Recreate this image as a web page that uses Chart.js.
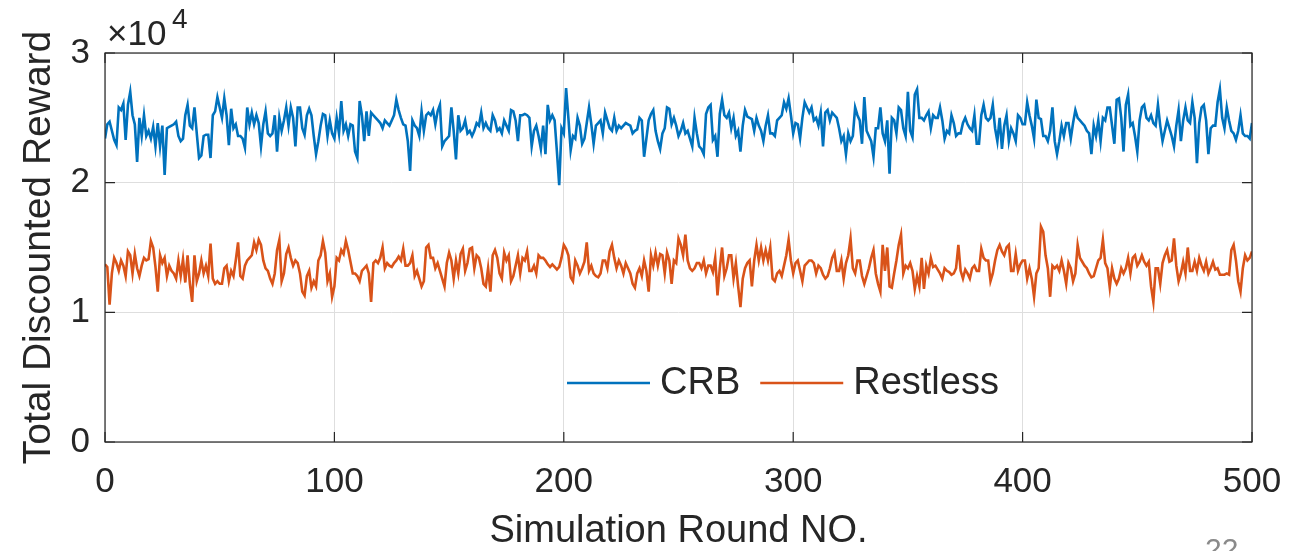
<!DOCTYPE html>
<html>
<head>
<meta charset="utf-8">
<script src="https://cdn.jsdelivr.net/npm/chart.js@4"></script>
<style>
  html, body { margin: 0; padding: 0; background: #fff; }
  canvas { display: block; }
</style>
</head>
<body>
<canvas id="rewardChart" width="1304" height="551"></canvas>
<script>
// values, in units of 10^4 (round 0..500)
const crb = [
  2.34,2.45,2.47,2.40,2.33,2.29,2.58,2.56,2.61,2.33,2.60,2.70,2.52,2.45,2.16,2.50,2.36,2.52,2.36,2.40,2.34,2.43,2.28,2.46,2.28,2.44,2.06,2.42,2.43,2.44,2.45,2.47,2.36,2.32,2.34,2.52,2.60,2.44,2.42,2.58,2.38,2.19,2.21,2.36,2.37,2.37,2.19,2.52,2.55,2.66,2.58,
  2.50,2.65,2.52,2.29,2.57,2.42,2.45,2.36,2.36,2.34,2.27,2.58,2.45,2.54,2.45,2.52,2.46,2.28,2.45,2.55,2.38,2.36,2.38,2.52,2.24,2.50,2.40,2.48,2.58,2.44,2.58,2.50,2.28,2.58,2.58,2.42,2.37,2.52,2.57,2.52,2.36,2.22,2.32,2.44,2.53,2.52,2.36,2.48,2.38,2.34,
  2.50,2.38,2.63,2.40,2.45,2.36,2.45,2.44,2.24,2.19,2.63,2.52,2.32,2.55,2.36,2.54,2.52,2.50,2.48,2.46,2.42,2.48,2.46,2.44,2.48,2.52,2.64,2.56,2.50,2.45,2.44,2.32,2.09,2.48,2.44,2.42,2.36,2.55,2.40,2.52,2.54,2.52,2.56,2.45,2.55,2.60,2.28,2.32,2.34,2.36,
  2.58,2.40,2.18,2.52,2.40,2.42,2.48,2.38,2.40,2.36,2.40,2.46,2.44,2.54,2.42,2.46,2.42,2.40,2.52,2.48,2.40,2.42,2.38,2.48,2.44,2.40,2.56,2.55,2.48,2.32,2.52,2.52,2.53,2.52,2.50,2.28,2.40,2.44,2.36,2.26,2.44,2.22,2.60,2.48,2.52,2.48,2.24,1.98,2.42,2.38,
  2.73,2.50,2.25,2.36,2.34,2.50,2.44,2.30,2.34,2.46,2.58,2.45,2.30,2.44,2.46,2.48,2.38,2.54,2.48,2.42,2.40,2.50,2.40,2.44,2.42,2.44,2.46,2.45,2.44,2.38,2.40,2.41,2.50,2.48,2.20,2.34,2.48,2.53,2.56,2.40,2.32,2.26,2.38,2.42,2.58,2.57,2.45,2.50,2.44,2.36,
  2.40,2.46,2.38,2.40,2.34,2.28,2.50,2.38,2.28,2.26,2.22,2.53,2.58,2.60,2.33,2.36,2.20,2.53,2.64,2.52,2.50,2.54,2.42,2.50,2.36,2.40,2.24,2.44,2.56,2.51,2.50,2.49,2.40,2.50,2.44,2.40,2.32,2.44,2.52,2.38,2.38,2.36,2.48,2.50,2.52,2.62,2.57,2.65,2.52,2.38,
  2.46,2.45,2.34,2.50,2.62,2.58,2.54,2.58,2.48,2.50,2.44,2.54,2.28,2.54,2.56,2.48,2.54,2.52,2.50,2.42,2.32,2.36,2.22,2.38,2.32,2.36,2.58,2.52,2.48,2.30,2.66,2.40,2.36,2.32,2.20,2.42,2.42,2.58,2.38,2.32,2.48,2.07,2.50,2.48,2.38,2.58,2.56,2.42,2.36,2.70,
  2.40,2.35,2.68,2.72,2.50,2.50,2.48,2.52,2.55,2.42,2.52,2.50,2.50,2.58,2.48,2.34,2.40,2.38,2.52,2.46,2.36,2.38,2.38,2.46,2.50,2.45,2.42,2.40,2.52,2.30,2.30,2.52,2.60,2.50,2.48,2.50,2.60,2.42,2.32,2.50,2.26,2.44,2.52,2.32,2.42,2.38,2.32,2.52,2.50,2.45,
  2.45,2.62,2.52,2.44,2.34,2.64,2.50,2.49,2.36,2.36,2.32,2.40,2.58,2.32,2.22,2.32,2.44,2.36,2.46,2.46,2.34,2.46,2.56,2.50,2.48,2.46,2.44,2.40,2.38,2.22,2.44,2.36,2.48,2.32,2.50,2.48,2.58,2.58,2.44,2.30,2.64,2.65,2.50,2.24,2.60,2.68,2.44,2.46,2.36,2.24,
  2.48,2.58,2.60,2.50,2.48,2.52,2.46,2.44,2.60,2.44,2.32,2.40,2.48,2.42,2.36,2.28,2.44,2.56,2.32,2.48,2.58,2.48,2.46,2.62,2.50,2.15,2.46,2.58,2.60,2.48,2.22,2.42,2.44,2.44,2.62,2.72,2.50,2.42,2.58,2.48,2.40,2.38,2.33,2.40,2.52,2.38,2.36,2.36,2.34,2.46
];

const restless = [
  1.37,1.35,1.06,1.30,1.42,1.38,1.32,1.40,1.36,1.28,1.47,1.44,1.30,1.45,1.34,1.28,1.36,1.42,1.40,1.41,1.55,1.50,1.35,1.16,1.44,1.38,1.42,1.28,1.36,1.32,1.30,1.26,1.40,1.28,1.41,1.23,1.44,1.22,1.08,1.44,1.24,1.30,1.40,1.30,1.36,1.28,1.53,1.26,1.22,1.24,1.22,
  1.22,1.34,1.36,1.24,1.32,1.28,1.40,1.54,1.28,1.26,1.36,1.40,1.42,1.44,1.54,1.48,1.56,1.52,1.40,1.34,1.32,1.26,1.22,1.30,1.48,1.56,1.24,1.30,1.45,1.50,1.42,1.36,1.40,1.38,1.30,1.16,1.13,1.28,1.32,1.19,1.24,1.20,1.40,1.44,1.55,1.46,1.24,1.30,1.12,1.20,
  1.42,1.40,1.48,1.45,1.55,1.48,1.39,1.30,1.30,1.28,1.24,1.32,1.34,1.36,1.30,1.08,1.38,1.40,1.38,1.42,1.50,1.34,1.38,1.36,1.35,1.38,1.40,1.43,1.40,1.49,1.36,1.36,1.38,1.44,1.28,1.32,1.26,1.20,1.24,1.50,1.52,1.42,1.42,1.34,1.38,1.32,1.26,1.20,1.38,1.46,
  1.40,1.26,1.40,1.30,1.45,1.49,1.32,1.38,1.49,1.50,1.34,1.44,1.42,1.34,1.22,1.20,1.34,1.16,1.44,1.48,1.42,1.30,1.26,1.46,1.40,1.44,1.24,1.28,1.36,1.44,1.30,1.42,1.40,1.47,1.32,1.32,1.36,1.30,1.44,1.42,1.42,1.40,1.37,1.35,1.37,1.35,1.33,1.35,1.42,1.52,
  1.49,1.44,1.27,1.24,1.40,1.36,1.30,1.34,1.39,1.54,1.32,1.36,1.30,1.28,1.27,1.30,1.40,1.40,1.34,1.47,1.52,1.42,1.34,1.40,1.36,1.30,1.38,1.34,1.30,1.22,1.19,1.30,1.34,1.28,1.40,1.32,1.16,1.44,1.36,1.46,1.36,1.45,1.44,1.30,1.46,1.40,1.22,1.40,1.38,1.57,
  1.52,1.44,1.60,1.40,1.34,1.32,1.34,1.38,1.38,1.34,1.40,1.30,1.36,1.36,1.31,1.42,1.13,1.34,1.50,1.28,1.34,1.44,1.44,1.26,1.38,1.20,1.04,1.26,1.34,1.38,1.40,1.20,1.40,1.52,1.40,1.50,1.40,1.48,1.40,1.50,1.26,1.24,1.30,1.32,1.28,1.36,1.44,1.56,1.40,1.30,
  1.38,1.40,1.32,1.24,1.36,1.38,1.40,1.40,1.38,1.30,1.36,1.34,1.29,1.26,1.28,1.34,1.42,1.46,1.32,1.32,1.40,1.26,1.38,1.44,1.57,1.34,1.30,1.40,1.40,1.28,1.22,1.28,1.34,1.42,1.48,1.30,1.22,1.16,1.52,1.32,1.50,1.20,1.19,1.30,1.40,1.52,1.60,1.30,1.36,1.34,
  1.38,1.32,1.18,1.28,1.20,1.42,1.18,1.36,1.30,1.42,1.35,1.36,1.33,1.30,1.26,1.34,1.32,1.31,1.29,1.30,1.34,1.52,1.32,1.26,1.33,1.30,1.26,1.34,1.36,1.32,1.32,1.49,1.42,1.40,1.40,1.24,1.30,1.40,1.48,1.52,1.47,1.44,1.50,1.52,1.32,1.32,1.45,1.32,1.37,1.40,
  1.40,1.26,1.34,1.26,1.12,1.30,1.34,1.66,1.62,1.44,1.34,1.12,1.36,1.34,1.36,1.32,1.40,1.32,1.22,1.38,1.34,1.24,1.30,1.52,1.42,1.39,1.36,1.34,1.30,1.27,1.28,1.34,1.40,1.42,1.56,1.38,1.34,1.19,1.34,1.26,1.22,1.26,1.34,1.30,1.34,1.42,1.30,1.42,1.44,1.36,
  1.39,1.44,1.39,1.36,1.39,1.20,1.08,1.34,1.34,1.22,1.38,1.44,1.48,1.39,1.40,1.57,1.36,1.24,1.30,1.39,1.30,1.50,1.32,1.32,1.39,1.32,1.42,1.36,1.32,1.39,1.30,1.34,1.39,1.33,1.34,1.29,1.29,1.29,1.30,1.29,1.48,1.52,1.40,1.24,1.16,1.34,1.44,1.40,1.42,1.47
];

const seriesNames = ['CRB', 'Restless'];
const seriesColors = ['#0072BD', '#D95319'];
const xTicks = [0, 100, 200, 300, 400, 500];
const yTicks = [0, 1, 2, 3];   // x 10^4
const SCALE = 1e4;

const FONT = "'Liberation Sans', Arial, Helvetica, sans-serif";
const TEXT = '#262626';

// box round the axes with MATLAB style inward ticks
const axesBox = {
  id: 'axesBox',
  afterDraw(chart) {
    const { ctx, chartArea: a, scales } = chart;
    const len = 10;
    ctx.save();
    ctx.strokeStyle = '#262626';
    ctx.lineWidth = 1.2;
    ctx.strokeRect(a.left, a.top, a.right - a.left, a.bottom - a.top);
    ctx.beginPath();
    xTicks.forEach(v => {
      const x = scales.x.getPixelForValue(v);
      ctx.moveTo(x, a.bottom); ctx.lineTo(x, a.bottom - len);
      ctx.moveTo(x, a.top); ctx.lineTo(x, a.top + len);
    });
    yTicks.forEach(v => {
      const y = scales.y.getPixelForValue(v * SCALE);
      ctx.moveTo(a.left, y); ctx.lineTo(a.left + len, y);
      ctx.moveTo(a.right, y); ctx.lineTo(a.right - len, y);
    });
    ctx.stroke();

    // exponent label
    ctx.fillStyle = TEXT;
    ctx.textBaseline = 'alphabetic';
    ctx.font = '35px ' + FONT;
    ctx.fillText('\u00d710', a.left + 2, 45);
    ctx.font = '28px ' + FONT;
    ctx.fillText('4', a.left + 67, 28);

    // page number at the corner of the slide
    ctx.fillStyle = '#8a8a8a';
    ctx.font = '30px ' + FONT;
    ctx.fillText('22', 1205, 559);
    ctx.restore();
  }
};

// legend inside the plot, no frame
const inPlotLegend = {
  id: 'inPlotLegend',
  afterDraw(chart) {
    const { ctx } = chart;
    const y = 383;
    let x = 567;
    ctx.save();
    ctx.font = '38px ' + FONT;
    ctx.textBaseline = 'middle';
    chart.data.datasets.forEach(ds => {
      ctx.strokeStyle = ds.borderColor;
      ctx.lineWidth = ds.borderWidth;
      ctx.beginPath();
      ctx.moveTo(x, y); ctx.lineTo(x + 83, y);
      ctx.stroke();
      ctx.fillStyle = TEXT;
      ctx.fillText(ds.label, x + 93, y + 1);
      x += 93 + ctx.measureText(ds.label).width + 20;
    });
    ctx.restore();
  }
};

const ctx = document.getElementById('rewardChart').getContext('2d');

new Chart(ctx, {
  type: 'line',
  data: {
    datasets: [crb, restless].map((vals, k) => ({
      label: seriesNames[k],
      data: vals.map((v, i) => ({ x: i, y: v * SCALE })),
      borderColor: seriesColors[k],
      borderWidth: 2.6,
      pointRadius: 0,
      tension: 0,
      fill: false
    }))
  },
  options: {
    responsive: false,
    animation: false,
    layout: { padding: { left: 0, right: 52, top: 53, bottom: 0 } },
    plugins: {
      legend: { display: false },
      tooltip: { enabled: false }
    },
    scales: {
      x: {
        type: 'linear',
        min: 0,
        max: 500,
        afterBuildTicks: s => { s.ticks = xTicks.map(v => ({ value: v })); },
        afterFit: s => { s.height = 109; },
        grid: { color: '#dedede', lineWidth: 1, drawTicks: false },
        border: { display: false },
        ticks: { color: TEXT, padding: 19, maxRotation: 0, font: { family: FONT, size: 35 } },
        title: {
          display: true,
          text: 'Simulation Round NO.',
          color: TEXT,
          font: { family: FONT, size: 38, lineHeight: 1 },
          padding: { top: 0, bottom: 0 }
        }
      },
      y: {
        min: 0,
        max: 3 * SCALE,
        afterBuildTicks: s => { s.ticks = yTicks.map(v => ({ value: v * SCALE })); },
        afterFit: s => { s.width = 105; },
        grid: { color: '#dedede', lineWidth: 1, drawTicks: false },
        border: { display: false },
        ticks: {
          color: TEXT,
          padding: 15,
          font: { family: FONT, size: 35 },
          callback: v => String(v / SCALE)
        },
        title: {
          display: true,
          text: 'Total Discounted Reward',
          color: TEXT,
          font: { family: FONT, size: 39, lineHeight: 1 },
          padding: { top: 20, bottom: 0 }
        }
      }
    }
  },
  plugins: [axesBox, inPlotLegend]
});
</script>
</body>
</html>
